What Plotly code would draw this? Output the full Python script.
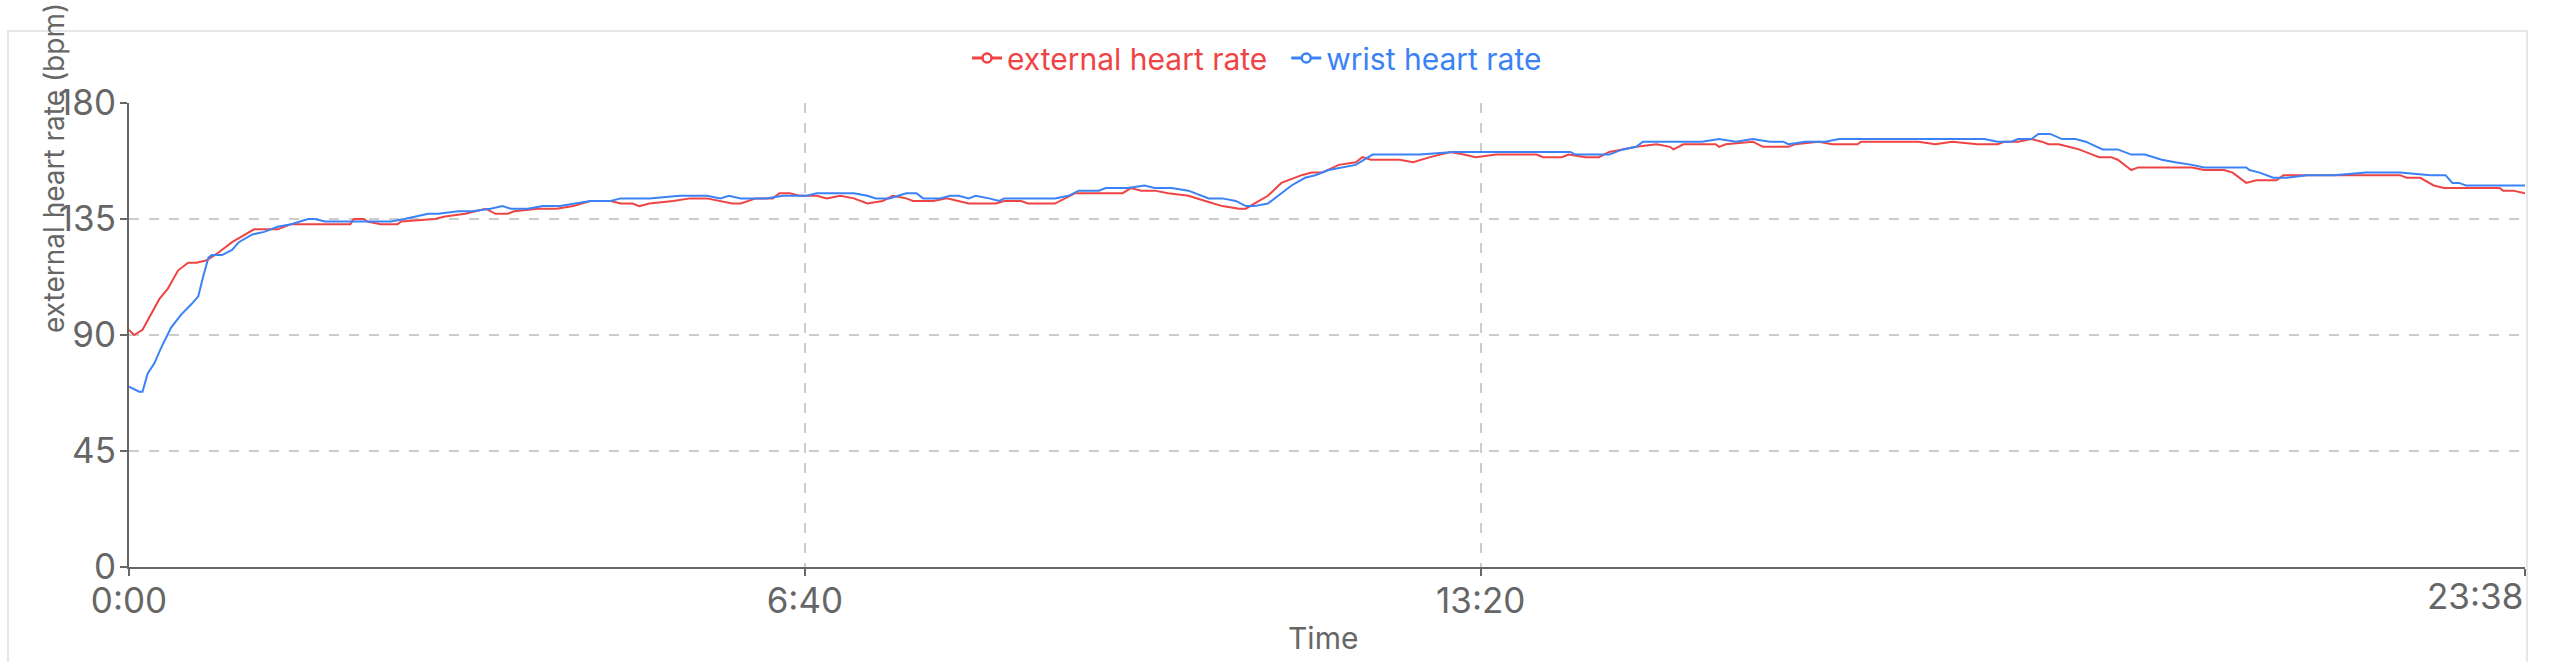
import plotly.graph_objects as go

# ---------------- data (time in seconds, heart rate in bpm) ----------------
ext_t = [0, 3, 8, 15, 18, 23, 29, 35, 40, 46, 53, 61, 69, 74, 88, 96, 108, 131, 133, 139, 141, 149, 159, 161,
         181, 187, 199, 211, 217, 224, 228, 242,
         253, 263, 273, 285, 291, 298, 302, 308, 322, 332, 342, 350, 357, 362, 371, 381, 385, 391, 397, 407,
         413, 421, 429, 437, 446, 452, 460, 464, 476, 484, 490,
         497, 513, 518, 528, 532, 548, 554, 560, 588, 593, 599, 607, 615, 627, 637, 647, 657, 661, 666, 674,
         682, 694, 700, 706, 716, 726, 730,
         735, 752, 760, 770, 782, 790, 797, 809, 833, 837, 848, 852, 862, 870, 876, 884, 892, 904, 912, 914,
         920, 939, 941, 945, 961, 967, 982,
         986, 1000, 1008, 1023, 1025, 1059, 1069, 1079, 1094, 1106, 1110, 1118, 1126, 1132, 1136, 1142, 1148,
         1154, 1162, 1166, 1173, 1177, 1183, 1185, 1189, 1207, 1221, 1228,
         1240, 1245, 1249, 1253, 1259, 1271, 1275, 1344, 1348, 1356, 1364, 1370, 1403, 1405, 1411, 1418]
ext_hr = [92, 90, 92, 100, 104, 108, 115, 118, 118, 119, 122, 126, 129, 131, 131, 133, 133, 133, 135, 135, 134, 133, 133, 134,
          135, 136, 137, 139, 137, 137, 138, 139,
          139, 140, 142, 142, 141, 141, 140, 141, 142, 143, 143, 142, 141, 141, 143, 143, 145, 145, 144, 144,
          143, 144, 143, 141, 142, 144, 143, 142, 142, 143, 142,
          141, 141, 142, 142, 141, 141, 143, 145, 145, 147, 146, 146, 145, 144, 142, 140, 139, 139, 141, 144,
          149, 152, 153, 153, 156, 157, 159,
          158, 158, 157, 159, 161, 160, 159, 160, 160, 159, 159, 160, 159, 159, 161, 162, 163, 164, 163, 162,
          164, 164, 163, 164, 165, 163, 163,
          164, 165, 164, 164, 165, 165, 164, 165, 164, 164, 165, 165, 166, 165, 164, 164, 163,
          162, 160, 159, 159, 158, 155, 154, 155, 155, 155, 154,
          154, 153, 151, 149, 150, 150, 152, 152, 151, 151, 148, 147, 147, 146, 146, 145]

wrist_t = [0, 6, 8, 11, 15, 19, 25, 31, 37, 41, 44, 47, 49, 55, 61, 65, 73, 80, 88, 96, 106, 110, 116, 136, 155,
           163, 171, 177, 183, 195, 203, 214, 221, 226, 236,
           245, 255, 263, 273, 285, 291, 308, 326, 342, 350, 355, 362, 377, 387, 401, 407, 429, 437, 442, 450,
           460, 466, 470, 480, 486, 491,
           497, 501, 509, 515, 518, 548, 556, 562, 574, 578, 591, 601, 607, 617, 627, 631, 639, 647, 655, 661,
           666, 674, 680, 688, 696, 702, 710, 718, 726, 736,
           750, 764, 784, 803, 853, 856, 868, 876, 884, 892, 896, 912, 931, 941, 951, 961, 971, 979, 982,
           992, 1004, 1012, 1039, 1098, 1106, 1114, 1118, 1126, 1130, 1137, 1144, 1152, 1158, 1168, 1177,
           1185, 1193, 1203, 1211, 1221, 1228,
           1242, 1253, 1255, 1261, 1269, 1277, 1289, 1305, 1324, 1344, 1362, 1371, 1375, 1379, 1383, 1403, 1418]
wrist_hr = [70, 68, 68, 75, 79, 85, 93, 98, 102, 105, 113, 120, 121, 121, 123, 126, 129, 130, 132, 133, 135, 135, 134, 134, 134,
            135, 136, 137, 137, 138, 138, 139, 140, 139, 139,
            140, 140, 141, 142, 142, 143, 143, 144, 144, 143, 144, 143, 143, 144, 144, 145, 145, 144, 143, 143,
            145, 145, 143, 143, 144, 144,
            143, 144, 143, 142, 143, 143, 144, 146, 146, 147, 147, 148, 147, 147, 146, 145, 143, 143, 142, 140,
            140, 141, 144, 148, 151, 152, 154, 155, 156, 160,
            160, 160, 161, 161, 161, 160, 160, 160, 162, 163, 165, 165, 165, 166, 165, 166, 165, 165, 164,
            165, 165, 166, 166, 166, 165, 165, 166, 166, 168, 168, 166, 166, 165, 162, 162,
            160, 160, 158, 157, 156, 155,
            155, 155, 154, 153, 151, 151, 152, 152, 153, 153, 152, 152, 149, 149, 148, 148, 148]

series_names = ["external heart rate", "wrist heart rate"]
x_tick_vals = [0, 400, 800, 1418]
x_tick_text = ["0:00", "6:40", "13:20", ""]
last_x_label = "23:38"
y_tick_vals = [0, 45, 90, 135, 180]
y_title = "external heart rate (bpm)"
x_title = "Time"

# ---------------- styling ----------------
RED = "#ef4444"
BLUE = "#3b82f6"
GREY = "#666666"
GRID = "#cccccc"
FONT = "Inter, 'Noto Sans', sans-serif"
TICK_SIZE = 35
W, H = 2554, 662
L, R, T, B = 129, 2525, 103, 567


def px(x):
    return (x - L) / (R - L)


def py(y):
    return (B - y) / (B - T)


fig = go.Figure()
fig.add_trace(go.Scatter(x=ext_t, y=ext_hr, mode="lines", line=dict(color=RED, width=2),
                         showlegend=False, name=series_names[0]))
fig.add_trace(go.Scatter(x=wrist_t, y=wrist_hr, mode="lines", line=dict(color=BLUE, width=2),
                         showlegend=False, name=series_names[1]))
# legend entries (line + hollow circle icon, text in series colour)
legend_labels = [f'<span style="color:{RED}">{series_names[0]}&nbsp;&#8201;</span>',
                 f'<span style="color:{BLUE}">{series_names[1]}</span>']
for lab, col in zip(legend_labels, [RED, BLUE]):
    fig.add_trace(go.Scatter(x=[None], y=[None], mode="lines+markers",
                             line=dict(color=col, width=3),
                             marker=dict(symbol="circle", size=9, color="white",
                                         line=dict(color=col, width=2.5)),
                             name=lab))

axis_common = dict(showline=True, linecolor=GREY, linewidth=2, ticks="outside", ticklen=7,
                   tickwidth=2, tickcolor=GREY, tickfont=dict(size=TICK_SIZE, color=GREY, family=FONT),
                   showgrid=True, gridcolor=GRID, gridwidth=2, griddash="10px,10px", zeroline=False)

fig.update_xaxes(range=[0, 1418], tickmode="array", tickvals=x_tick_vals, ticktext=x_tick_text,
                 ticklabelstandoff=-5, **axis_common)
fig.update_yaxes(range=[0, 180], tickmode="array", tickvals=y_tick_vals,
                 ticklabelstandoff=-3, **axis_common)

fig.update_layout(
    width=W, height=H,
    margin=dict(l=L, r=W - R, t=T, b=H - B, autoexpand=False),
    paper_bgcolor="white", plot_bgcolor="white",
    font=dict(family=FONT, size=30, color=GREY),
    legend=dict(orientation="h", xref="container", yref="container",
                x=1257 / W, y=1 - 58 / H, xanchor="center", yanchor="middle",
                font=dict(size=30, family=FONT), itemwidth=30, itemclick=False,
                bgcolor="rgba(0,0,0,0)"),
    shapes=[dict(type="rect", xref="paper", yref="paper", x0=px(8), x1=px(2527), y0=py(31), y1=py(720),
                 line=dict(color="#e5e7eb", width=2), fillcolor="rgba(0,0,0,0)", layer="below")],
    annotations=[
        dict(text=y_title, xref="paper", yref="paper", x=px(54), y=py(335), xanchor="center",
             yanchor="bottom", textangle=-90, showarrow=False, font=dict(size=28, color=GREY)),
        dict(text=x_title, xref="paper", yref="paper", x=px(1323), y=py(638), xanchor="center",
             yanchor="middle", showarrow=False, font=dict(size=30, color=GREY)),
        dict(text=last_x_label, xref="x", yref="paper", x=x_tick_vals[-1], y=py(596), xanchor="right",
             yanchor="middle", showarrow=False, font=dict(size=TICK_SIZE, color=GREY, family=FONT)),
    ],
)

fig.write_html("out.html")
